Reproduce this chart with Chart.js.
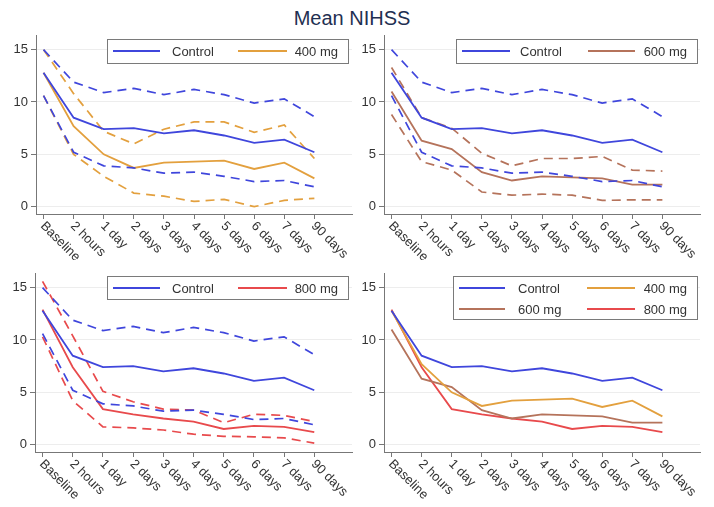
<!DOCTYPE html>
<html>
<head>
<meta charset="utf-8">
<script src="https://cdn.jsdelivr.net/npm/chart.js@4.4.0/dist/chart.umd.min.js"></script>
<style>
  body { margin: 0; background: #fff; }
  #page { position: relative; width: 714px; height: 507px; overflow: hidden; }
  #title { position: absolute; left: 0; width: 704px; top: 7px; text-align: center;
           font: 20px "Liberation Sans", Arial, sans-serif; color: #1f3052; }
  canvas { position: absolute; }
</style>
</head>
<body>
<div id="page">
  <div id="title">Mean NIHSS</div>
  <canvas id="p1" width="357" height="230" style="left:0;top:30px"></canvas>
  <canvas id="p2" width="357" height="230" style="left:357px;top:30px"></canvas>
  <canvas id="p3" width="357" height="247" style="left:0;top:260px"></canvas>
  <canvas id="p4" width="357" height="247" style="left:357px;top:260px"></canvas>
</div>
<script>
const timepoints = ["Baseline", "2 hours", "1 day", "2 days", "3 days", "4 days", "5 days", "6 days", "7 days", "90 days"];
const yTicks = [0, 5, 10, 15];

// means and 95% CI bounds
const controlMean  = [12.8, 8.5, 7.4, 7.5, 7.0, 7.3, 6.8, 6.1, 6.4, 5.2];
const controlUpper = [15.0, 11.9, 10.9, 11.3, 10.7, 11.2, 10.7, 9.9, 10.3, 8.6];
const controlLower = [10.6, 5.2, 3.9, 3.7, 3.2, 3.3, 2.9, 2.4, 2.5, 1.9];

const mg400Mean  = [12.8, 7.7, 5.0, 3.7, 4.2, 4.3, 4.4, 3.6, 4.2, 2.7];
const mg400Upper = [15.0, 10.8, 7.2, 6.0, 7.4, 8.1, 8.1, 7.1, 7.8, 4.6];
const mg400Lower = [10.6, 5.0, 2.9, 1.3, 1.0, 0.5, 0.7, 0.0, 0.6, 0.8];

const mg600Mean  = [11.0, 6.3, 5.5, 3.3, 2.5, 2.9, 2.8, 2.7, 2.1, 2.1];
const mg600Upper = [13.3, 8.5, 7.5, 5.1, 3.9, 4.6, 4.6, 4.8, 3.5, 3.4];
const mg600Lower = [8.8, 4.3, 3.5, 1.4, 1.1, 1.2, 1.1, 0.6, 0.65, 0.65];

const mg800Mean  = [12.9, 7.4, 3.4, 2.9, 2.5, 2.2, 1.5, 1.8, 1.7, 1.2];
const mg800Upper = [15.6, 10.4, 5.1, 4.1, 3.4, 3.3, 2.1, 2.9, 2.8, 2.2];
const mg800Lower = [10.3, 4.2, 1.7, 1.6, 1.4, 1.0, 0.8, 0.75, 0.65, 0.15];

const BLUE = "#3f46dc";
const ORANGE = "#e3a03e";
const BROWN = "#b5735b";
const RED = "#e84a4c";
const FONT = '"Liberation Sans", Arial, sans-serif';

const toXY = (values) => values.map((v, i) => ({ x: i, y: v }));

const solid = (label, values, color) => ({
  label, data: toXY(values), borderColor: color, borderWidth: 1.8,
  pointRadius: 0, tension: 0, fill: false,
});
const dashed = (label, values, color) => ({
  ...solid(label, values, color), borderDash: [9, 6], borderWidth: 1.7,
});

// Stata-style x labels: start at the tick, running down to the right
const slantLabels = {
  id: "slantLabels",
  afterDraw: (chart) => {
    const { ctx } = chart;
    const xs = chart.scales.x;
    ctx.save();
    ctx.font = "13px " + FONT;
    ctx.fillStyle = "#333";
    ctx.textAlign = "left";
    ctx.textBaseline = "middle";
    timepoints.forEach((t, i) => {
      const x = xs.getPixelForValue(i);
      ctx.save();
      ctx.translate(x - 1, xs.top + 10);
      ctx.rotate(Math.PI / 4);
      ctx.fillText(t, 0, 0);
      ctx.restore();
    });
    ctx.restore();
  },
};

// legend box inside the plot region
const boxLegend = {
  id: "boxLegend",
  afterDraw: (chart, args, opts) => {
    if (!opts.items) return;
    const { ctx } = chart;
    const [x0, y0, x1, y1] = opts.box;
    ctx.save();
    ctx.fillStyle = "#fff";
    ctx.fillRect(x0, y0, x1 - x0, y1 - y0);
    ctx.strokeStyle = "#7a7a7a";
    ctx.lineWidth = 1;
    ctx.strokeRect(x0 + 0.5, y0 + 0.5, x1 - x0, y1 - y0);
    ctx.font = "13px " + FONT;
    ctx.fillStyle = "#333";
    ctx.textBaseline = "middle";
    opts.items.forEach((it) => {
      const col = opts.cols[it.col];
      const y = opts.rows[it.row];
      ctx.strokeStyle = it.color;
      ctx.lineWidth = 1.8;
      ctx.beginPath();
      ctx.moveTo(col.l0, y);
      ctx.lineTo(col.l1, y);
      ctx.stroke();
      ctx.textAlign = col.align;
      ctx.fillText(it.text, col.tx, y + 1);
    });
    ctx.restore();
  },
};

function makePanel(id, datasets, layout, legend) {
  new Chart(document.getElementById(id), {
    type: "line",
    data: { datasets },
    options: {
      responsive: false,
      animation: false,
      devicePixelRatio: 1,
      layout: { padding: { top: layout.top, right: layout.right, left: 0, bottom: 0 } },
      plugins: {
        legend: { display: false },
        tooltip: { enabled: false },
        boxLegend: legend,
      },
      scales: {
        x: {
          type: "linear",
          min: -0.25,
          max: 10.25,
          afterBuildTicks: (s) => { s.ticks = timepoints.map((_, i) => ({ value: i })); },
          afterFit: (s) => {
            s.height = layout.xh;
            s.paddingLeft = 0;
            s.paddingRight = 0;
          },
          ticks: { display: false },
          grid: { drawOnChartArea: false, drawTicks: true, tickLength: 5, tickColor: "#777" },
          border: { color: "#777", width: 1 },
        },
        y: {
          min: -0.7,
          max: 16.4,
          afterBuildTicks: (s) => { s.ticks = yTicks.map((v) => ({ value: v })); },
          afterFit: (s) => {
            s.width = layout.yw;
            s.paddingTop = 0;
            s.paddingBottom = 0;
          },
          ticks: { font: { size: 13, family: FONT }, color: "#333", padding: 3 },
          grid: { color: "#ededed", tickColor: "#777", tickLength: 5 },
          border: { color: "#777", width: 1 },
        },
      },
    },
    plugins: [slantLabels, boxLegend],
  });
}

const controlSet = () => [
  dashed("Control upper", controlUpper, BLUE),
  dashed("Control lower", controlLower, BLUE),
  solid("Control", controlMean, BLUE),
];

const leftCols = [
  { l0: 113, l1: 160, tx: 172, align: "left" },
  { l0: 238, l1: 287, tx: 338, align: "right" },
];
const rightCols = [
  { l0: 105, l1: 153, tx: 163, align: "left" },
  { l0: 231, l1: 278, tx: 330, align: "right" },
];

makePanel("p1", [
  ...controlSet(),
  dashed("400 mg upper", mg400Upper, ORANGE),
  dashed("400 mg lower", mg400Lower, ORANGE),
  solid("400 mg", mg400Mean, ORANGE),
], { top: 5, right: 5, xh: 46, yw: 36 }, {
  box: [107, 9, 348, 33], rows: [21], cols: leftCols,
  items: [
    { text: "Control", color: BLUE, row: 0, col: 0 },
    { text: "400 mg", color: ORANGE, row: 0, col: 1 },
  ],
});

makePanel("p2", [
  ...controlSet(),
  dashed("600 mg upper", mg600Upper, BROWN),
  dashed("600 mg lower", mg600Lower, BROWN),
  solid("600 mg", mg600Mean, BROWN),
], { top: 5, right: 14, xh: 46, yw: 27 }, {
  box: [99, 9, 340, 33], rows: [21], cols: rightCols,
  items: [
    { text: "Control", color: BLUE, row: 0, col: 0 },
    { text: "600 mg", color: BROWN, row: 0, col: 1 },
  ],
});

makePanel("p3", [
  ...controlSet(),
  dashed("800 mg upper", mg800Upper, RED),
  dashed("800 mg lower", mg800Lower, RED),
  solid("800 mg", mg800Mean, RED),
], { top: 13, right: 5, xh: 55, yw: 35 }, {
  box: [107, 16, 348, 39], rows: [28], cols: leftCols,
  items: [
    { text: "Control", color: BLUE, row: 0, col: 0 },
    { text: "800 mg", color: RED, row: 0, col: 1 },
  ],
});

makePanel("p4", [
  solid("Control", controlMean, BLUE),
  solid("400 mg", mg400Mean, ORANGE),
  solid("600 mg", mg600Mean, BROWN),
  solid("800 mg", mg800Mean, RED),
], { top: 13, right: 14, xh: 55, yw: 27 }, {
  box: [96, 16, 340, 59], rows: [28, 49], cols: [
    { l0: 102, l1: 148, tx: 161, align: "left" },
    { l0: 230, l1: 278, tx: 330, align: "right" },
  ],
  items: [
    { text: "Control", color: BLUE, row: 0, col: 0 },
    { text: "400 mg", color: ORANGE, row: 0, col: 1 },
    { text: "600 mg", color: BROWN, row: 1, col: 0 },
    { text: "800 mg", color: RED, row: 1, col: 1 },
  ],
});
</script>
</body>
</html>
